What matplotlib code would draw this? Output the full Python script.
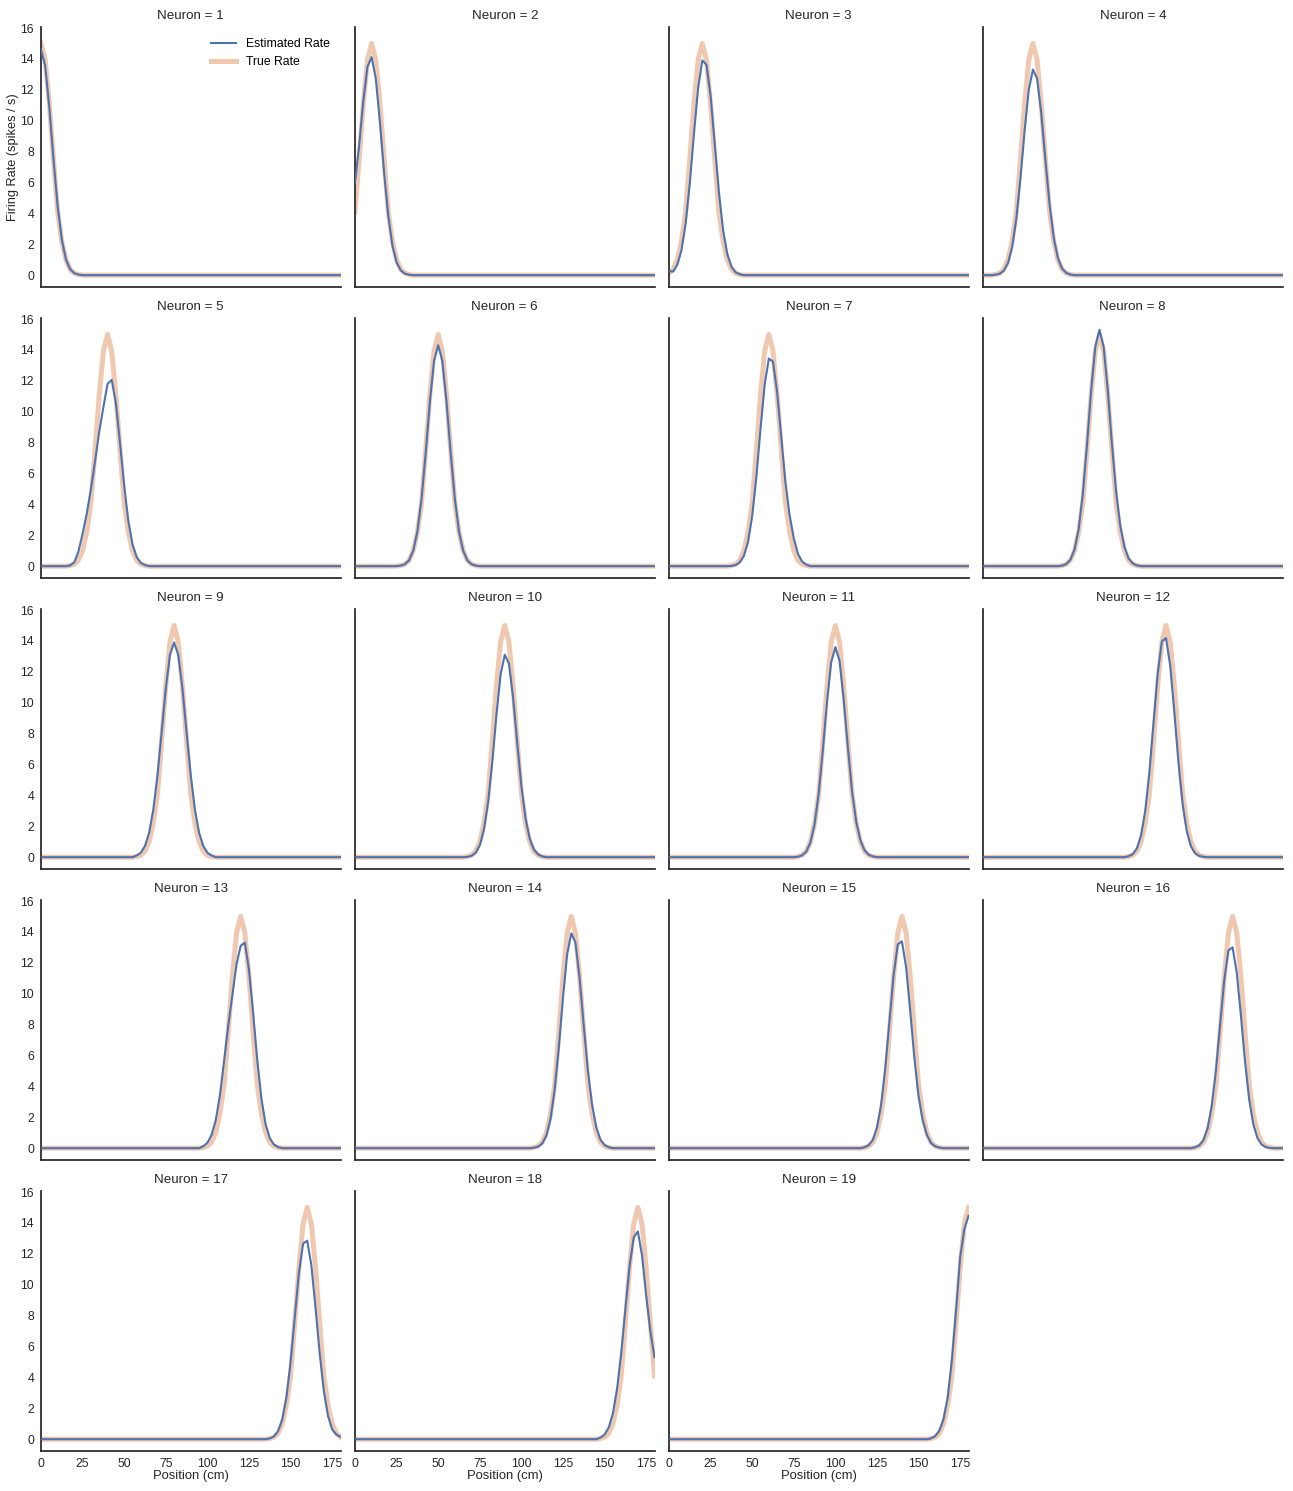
import numpy as np
import matplotlib
matplotlib.use("Agg")
import matplotlib.pyplot as plt

# ---------------- data ----------------
neurons = list(range(1, 20))
place_field_centers_cm = [0, 10, 20, 30, 40, 50, 60, 70, 80, 90,
                          100, 110, 120, 130, 140, 150, 160, 170, 180]

# sampling positions along the track (cm)
position_cm = np.arange(0, 180.01, 2.5)
track_min, track_max = 0, 180

# true place-field shape, sampled at offsets -22.5 ... +22.5 cm (step 2.5) from the centre
profile_offsets_cm = np.arange(-22.5, 22.51, 2.5)
true_rate_profile = [0.04, 0.13, 0.38, 1.0, 2.2, 4.1, 7.5, 11.1, 13.93, 15.0,
                     13.93, 11.1, 7.5, 4.1, 2.2, 1.0, 0.38, 0.13, 0.04]

# estimated rates, sampled every 2.5 cm from max(0, centre-22.5) to min(180, centre+22.5)
estimated_rates = [
    [14.6, 13.56, 10.86, 7.5, 4.47, 2.29, 1.02, 0.39, 0.13, 0.04],                                    # 1
    [6.0, 8.4, 11.3, 13.5, 14.11, 12.72, 9.89, 6.63, 3.84, 1.91, 0.83, 0.31, 0.1, 0.03],              # 2
    [0.25, 0.24, 0.68, 1.62, 3.35, 5.95, 9.15, 12.11, 13.9, 13.63, 11.59, 8.49, 5.37, 2.92, 1.38, 0.56, 0.19, 0.06],  # 3
    [0.03, 0.09, 0.29, 0.78, 1.81, 3.63, 6.26, 9.33, 12.0, 13.31, 12.73, 10.5, 7.47, 4.59, 2.43, 1.11, 0.44, 0.15, 0.04],  # 4
    [0.05, 0.25, 0.95, 2.1, 3.4, 5.0, 6.8, 8.7, 10.3, 11.8, 12.06, 10.55, 7.97, 5.19, 2.92, 1.41, 0.59, 0.21, 0.07],      # 5
    [0.04, 0.13, 0.38, 1.0, 2.25, 4.38, 7.34, 10.64, 13.28, 14.3, 13.28, 10.64, 7.34, 4.38, 2.25, 1.0, 0.38, 0.13, 0.04],  # 6
    [0.02, 0.07, 0.24, 0.66, 1.57, 3.25, 5.78, 8.88, 11.76, 13.44, 13.24, 11.25, 8.3, 5.4, 3.3, 1.8, 0.8, 0.3, 0.1],      # 7
    [0.04, 0.13, 0.41, 1.07, 2.4, 4.69, 7.86, 11.38, 14.21, 15.3, 14.21, 11.38, 7.9, 4.8, 2.6, 1.25, 0.5, 0.18, 0.05],    # 8
    [0.11, 0.29, 0.73, 1.59, 3.08, 5.3, 8.08, 10.92, 13.09, 13.9, 13.09, 10.92, 8.08, 5.3, 3.08, 1.59, 0.73, 0.29, 0.11],  # 9
    [0.02, 0.09, 0.28, 0.77, 1.78, 3.57, 6.16, 9.19, 11.82, 13.11, 12.54, 10.35, 7.4, 4.6, 2.5, 1.2, 0.5, 0.18, 0.05],    # 10
    [0.03, 0.12, 0.36, 0.95, 2.14, 4.17, 6.98, 10.12, 12.63, 13.6, 12.7, 10.2, 7.1, 4.3, 2.3, 1.1, 0.45, 0.16, 0.05],     # 11
    [0.06, 0.2, 0.57, 1.41, 3.0, 5.5, 8.7, 11.87, 13.97, 14.18, 12.41, 9.37, 6.1, 3.43, 1.66, 0.7, 0.25, 0.08, 0.02],      # 12
    [0.12, 0.35, 0.85, 1.8, 3.4, 5.6, 7.9, 9.9, 11.9, 13.1, 13.3, 11.55, 8.72, 5.68, 3.19, 1.54, 0.65, 0.23, 0.07],       # 13
    [0.03, 0.1, 0.3, 0.81, 1.89, 3.79, 6.54, 9.75, 12.54, 13.91, 13.31, 10.98, 7.9, 5.0, 2.8, 1.35, 0.55, 0.2, 0.06],     # 14
    [0.06, 0.19, 0.54, 1.33, 2.83, 5.2, 8.22, 11.21, 13.19, 13.39, 11.72, 8.85, 5.8, 3.35, 1.8, 0.85, 0.33, 0.12, 0.04],  # 15
    [0.06, 0.18, 0.53, 1.29, 2.75, 5.04, 7.98, 10.88, 12.8, 13.0, 11.37, 8.59, 5.59, 3.14, 1.52, 0.64, 0.23, 0.07, 0.02],  # 16
    [0.05, 0.18, 0.52, 1.28, 2.71, 4.98, 7.88, 10.76, 12.66, 12.85, 11.25, 8.49, 5.53, 3.11, 1.5, 0.63, 0.3, 0.15],       # 17
    [0.1, 0.3, 0.76, 1.67, 3.26, 5.58, 8.42, 11.18, 13.06, 13.45, 11.9, 9.3, 7.0, 5.3],                                    # 18
    [0.05, 0.2, 0.55, 1.3, 2.7, 5.1, 8.3, 11.8, 13.6, 14.45],                                                              # 19
]

x_ticks = [0, 25, 50, 75, 100, 125, 150, 175]
y_ticks = [0, 2, 4, 6, 8, 10, 12, 14, 16]
x_label = "Position (cm)"
y_label = "Firing Rate (spikes / s)"
series_labels = ["Estimated Rate", "True Rate"]

# ---------------- build full curves ----------------
step = position_cm[1] - position_cm[0]
half_span = 22.5


def true_curve(center):
    full = np.zeros(len(position_cm))
    for off, val in zip(profile_offsets_cm, true_rate_profile):
        x = center + off
        if track_min <= x <= track_max:
            full[int(round(x / step))] = val
    return full


def est_curve(center, values):
    full = np.zeros(len(position_cm))
    start = max(track_min, center - half_span)
    for k, val in enumerate(values):
        x = start + k * step
        if track_min <= x <= track_max:
            full[int(round(x / step))] = val
    return full


# ---------------- style ----------------
plt.rcParams["font.family"] = ["Liberation Sans", "DejaVu Sans"]
text_color = "#262626"
est_color = "#4c72b0"
true_color = "#f0c8b0"

W, H = 1293, 1491
fig = plt.figure(figsize=(W / 100, H / 100), dpi=100)
fig.patch.set_facecolor("white")

ax_w, ax_h = 299.5, 260
col_left = [41, 355, 669, 983]
row_top = [27, 318, 609, 900, 1191]

axes = []
first = None
for i, n in enumerate(neurons):
    r, c = divmod(i, 4)
    rect = [col_left[c] / W, 1 - (row_top[r] + ax_h) / H, ax_w / W, ax_h / H]
    if first is None:
        ax = fig.add_axes(rect)
        first = ax
    else:
        ax = fig.add_axes(rect, sharex=first, sharey=first)
    axes.append(ax)
    center = place_field_centers_cm[i]
    l_true, = ax.plot(position_cm, true_curve(center), color=true_color,
                      lw=3.6, zorder=2, solid_joinstyle="round")
    l_est, = ax.plot(position_cm, est_curve(center, estimated_rates[i]),
                     color=est_color, lw=1.5, zorder=3, solid_joinstyle="round")
    ax.set_title(f"Neuron = {n}", fontsize=9.6, color=text_color, pad=6)
    for side in ["top", "right"]:
        ax.spines[side].set_visible(False)
    for side in ["left", "bottom"]:
        ax.spines[side].set_color(text_color)
        ax.spines[side].set_linewidth(1.25)
    ax.tick_params(length=0, labelsize=8.8, colors=text_color, pad=5)
    ax.set_facecolor("white")
    if c != 0:
        ax.tick_params(labelleft=False)
    if n < 17:
        ax.tick_params(labelbottom=False)
    else:
        ax.set_xlabel(x_label, fontsize=9.4, color=text_color, labelpad=0)
    if i == 0:
        ax.set_ylabel(y_label, fontsize=9.2, color=text_color, labelpad=1)
        ax.legend([l_est, l_true], series_labels, loc="upper right",
                  frameon=False, fontsize=8.8)

first.set_xlim(track_min, track_max)
first.set_xticks(x_ticks)
first.set_yticks(y_ticks)
first.relim()
first.autoscale(axis="y")

fig.savefig("out.png", dpi=100, facecolor="white")
